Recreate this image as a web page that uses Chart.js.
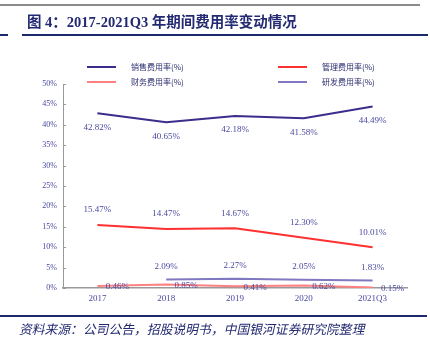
<!DOCTYPE html>
<html><head><meta charset="utf-8">
<script src="https://cdn.jsdelivr.net/npm/chart.js@4"></script>
<style>html,body{margin:0;padding:0;background:#fff;}#wrap{position:relative;width:430px;height:339px;}</style>
</head><body><div id="wrap"><canvas id="c" width="430" height="339"></canvas></div>
<script>
const categories = ['2017','2018','2019','2020','2021Q3'];
const salesRate = [42.82, 40.65, 42.18, 41.58, 44.49];
const mgmtRate = [15.47, 14.47, 14.67, 12.30, 10.01];
const finRate = [0.46, 0.85, 0.41, 0.62, 0.15];
const rdRate = [null, 2.09, 2.27, 2.05, 1.83];
const seriesNames = ['销售费用率(%)', '管理费用率(%)', '财务费用率(%)', '研发费用率(%)'];
const titleText = '图 4：2017-2021Q3 年期间费用率变动情况';
const sourceText = '资料来源：公司公告，招股说明书，中国银河证券研究院整理';

const SERIF = '"Liberation Serif", "Noto Sans CJK SC", serif';
const CJK = '"Noto Sans CJK SC", "Liberation Serif", serif';
const labelColor = '#4a48a0';

const colors = ['#3a2d8c', '#ff3030', '#ff8080', '#8078c0'];
// label placement per dataset: [dx, dy]
const labelOffsets = [[0, 14], [0, -15], [20, 1], [0, -13]];

const decor = {
  id: 'decor',
  afterDraw(chart) {
    const ctx = chart.ctx;
    ctx.save();
    // top gray line
    ctx.fillStyle = '#8a8a8a';
    ctx.fillRect(0, 4, 420, 2);
    // title
    ctx.fillStyle = '#232a72';
    ctx.font = 'bold 14.5px ' + SERIF;
    ctx.textBaseline = 'middle';
    ctx.textAlign = 'left';
    ctx.fillText(titleText, 27, 23);
    // title underline
    ctx.fillStyle = '#1c2a6b';
    ctx.fillRect(0, 34, 8, 2);
    ctx.fillRect(22, 34, 406, 2);
    // legend
    const ds = chart.data.datasets;
    const pos = [[87, 67], [278, 67], [87, 82], [278, 82]];
    ctx.font = '8px ' + CJK;
    for (let i = 0; i < ds.length; i++) {
      const [x, y] = pos[i];
      ctx.strokeStyle = ds[i].borderColor;
      ctx.lineWidth = 2;
      ctx.beginPath(); ctx.moveTo(x, y); ctx.lineTo(x + 29, y); ctx.stroke();
      ctx.fillStyle = '#2a2a70';
      ctx.fillText(ds[i].label, x + 44, y);
    }
    // y-axis tick marks (inside)
    const ys = chart.scales.y;
    ctx.strokeStyle = '#999';
    ctx.lineWidth = 1;
    ys.ticks.forEach(t => {
      const py = Math.round(ys.getPixelForValue(t.value)) + 0.5;
      ctx.beginPath(); ctx.moveTo(ys.right, py); ctx.lineTo(ys.right + 3, py); ctx.stroke();
    });
    // data labels
    ctx.font = '9px ' + SERIF;
    ctx.textAlign = 'center';
    ctx.fillStyle = labelColor;
    ds.forEach((d, i) => {
      const meta = chart.getDatasetMeta(i);
      meta.data.forEach((p, j) => {
        const v = d.data[j];
        if (v === null || v === undefined) return;
        ctx.fillText(v.toFixed(2) + '%', p.x + labelOffsets[i][0], p.y + labelOffsets[i][1]);
      });
    });
    // footer line and text
    ctx.fillStyle = '#1c2a6b';
    ctx.fillRect(0, 315, 427, 2);
    ctx.fillStyle = '#232a72';
    ctx.font = '12.8px ' + CJK;
    ctx.textAlign = 'left';
    ctx.save();
    ctx.translate(20, 329);
    ctx.transform(1, 0, -0.22, 1, 0, 0);
    ctx.fillText(sourceText, 0, 0);
    ctx.restore();
    ctx.restore();
  }
};

new Chart(document.getElementById('c'), {
  type: 'line',
  data: {
    labels: categories,
    datasets: [
      { label: seriesNames[0], data: salesRate, borderColor: colors[0], backgroundColor: colors[0], borderWidth: 2 },
      { label: seriesNames[1], data: mgmtRate, borderColor: colors[1], backgroundColor: colors[1], borderWidth: 2 },
      { label: seriesNames[2], data: finRate, borderColor: colors[2], backgroundColor: colors[2], borderWidth: 2 },
      { label: seriesNames[3], data: rdRate, borderColor: colors[3], backgroundColor: colors[3], borderWidth: 2 }
    ]
  },
  options: {
    responsive: false,
    animation: false,
    devicePixelRatio: 1,
    elements: { point: { radius: 0 }, line: { tension: 0 } },
    layout: { padding: { top: 84, right: 23, left: 0, bottom: 0 } },
    plugins: { legend: { display: false }, tooltip: { enabled: false }, title: { display: false } },
    scales: {
      x: {
        offset: true,
        grid: { display: false, drawTicks: false },
        border: { color: '#999', width: 1.5 },
        ticks: { color: labelColor, font: { family: SERIF, size: 9 }, padding: 5, maxRotation: 0 },
        afterFit(s) { s.height = 51; }
      },
      y: {
        min: 0, max: 50,
        grid: { display: false, drawTicks: false },
        border: { color: '#999', width: 1 },
        ticks: { stepSize: 5, color: labelColor, font: { family: SERIF, size: 8 }, padding: 6, callback: v => v + '%' },
        afterFit(s) { s.width = 63; }
      }
    }
  },
  plugins: [decor]
});
</script></body></html>
